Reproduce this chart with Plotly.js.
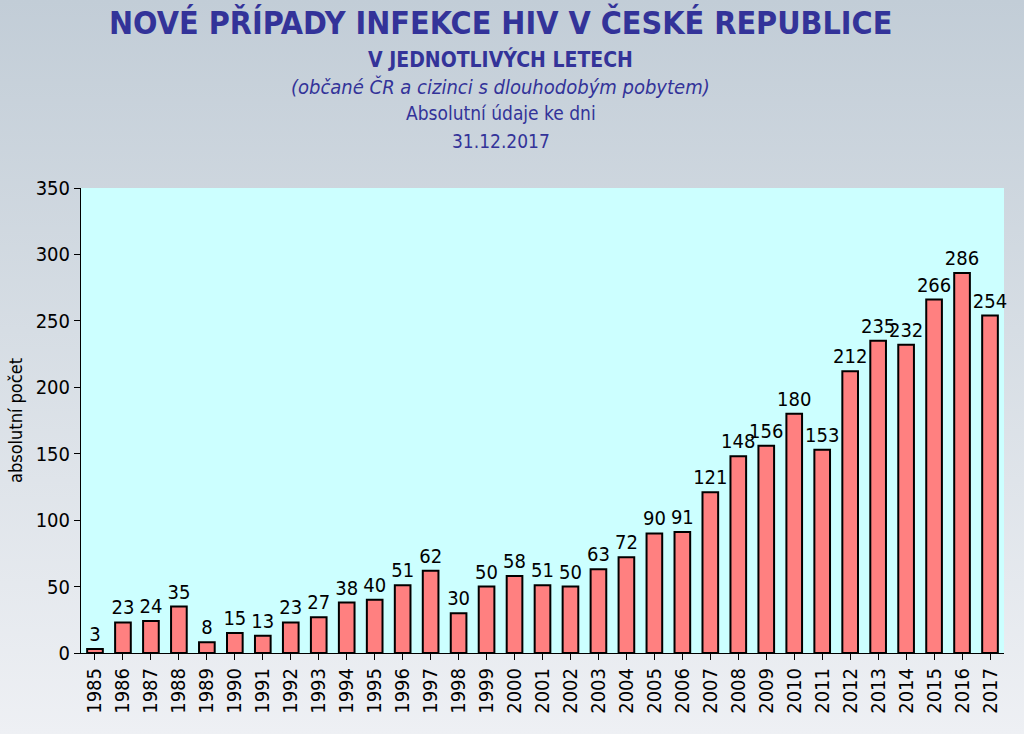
<!DOCTYPE html>
<html><head><meta charset="utf-8">
<script src="https://cdn.plot.ly/plotly-3.0.1.min.js"></script>
<style>
html,body{margin:0;padding:0;width:1024px;height:734px;overflow:hidden;
background:linear-gradient(to bottom,#c2cdd7 0%,#d6dde4 45%,#eef0f4 100%);}
#chart{width:1024px;height:734px;}
</style></head><body>
<div id="chart"></div>
<script>
const years = ["1985","1986","1987","1988","1989","1990","1991","1992","1993","1994","1995","1996","1997","1998","1999","2000","2001","2002","2003","2004","2005","2006","2007","2008","2009","2010","2011","2012","2013","2014","2015","2016","2017"];
const cases = [3,23,24,35,8,15,13,23,27,38,40,51,62,30,50,58,51,50,63,72,90,91,121,148,156,180,153,212,235,232,266,286,254];
const yTicks = [0,50,100,150,200,250,300,350];
const titleLines = ["NOVÉ PŘÍPADY INFEKCE HIV V ČESKÉ REPUBLICE","V JEDNOTLIVÝCH LETECH","(občané ČR a cizinci s dlouhodobým pobytem)","Absolutní údaje ke dni","31.12.2017"];
const yTitle = "absolutní počet";

const font = "DejaVu Sans Condensed, DejaVu Sans, sans-serif";
const trace = {
  type:"bar", x:years, y:cases, text:cases.map(String),
  textposition:"outside", cliponaxis:false, constraintext:"none",
  textfont:{family:font,size:20,color:"#000"},
  marker:{color:"#ff8080",line:{color:"#000",width:2}},
  width:0.56, hoverinfo:"none"
};
const layout = {
  width:1024,height:734,
  paper_bgcolor:"rgba(0,0,0,0)",plot_bgcolor:"#ccffff",
  margin:{l:81,r:20,t:188,b:81},
  showlegend:false,
  uniformtext:{mode:false},
  xaxis:{type:"category",tickangle:-90,tickfont:{family:font,size:20,color:"#000"},
    ticks:"outside",ticklen:6,tickcolor:"#000",showline:true,linecolor:"#000",linewidth:1,
    showgrid:false,zeroline:false,fixedrange:true},
  yaxis:{range:[0,350],tickvals:yTicks,tickfont:{family:font,size:20,color:"#000"},
    ticks:"outside",ticklen:6,tickcolor:"#000",showline:true,linecolor:"#000",linewidth:1,
    showgrid:false,zeroline:false,
    title:{text:yTitle,font:{family:font,size:18,color:"#000"},standoff:8}},
  annotations:[
    {text:"<b>"+titleLines[0]+"</b>",x:0.455,y:22,font:{family:font,size:32,color:"#333399"}},
    {text:"<b>"+titleLines[1]+"</b>",x:0.455,y:60,font:{family:font,size:21,color:"#333399"}},
    {text:"<i>"+titleLines[2]+"</i>",x:0.455,y:87,font:{family:font,size:20,color:"#333399"}},
    {text:titleLines[3],x:0.455,y:113,font:{family:font,size:19,color:"#333399"}},
    {text:titleLines[4],x:0.455,y:141,font:{family:font,size:19,color:"#333399"}}
  ].map(a=>({text:a.text,xref:"paper",yref:"paper",x:a.x,y:1+(188-a.y)/465,xanchor:"center",yanchor:"middle",showarrow:false,font:a.font}))
};
Plotly.newPlot("chart",[trace],layout,{displayModeBar:false,staticPlot:true});
</script>
</body></html>
